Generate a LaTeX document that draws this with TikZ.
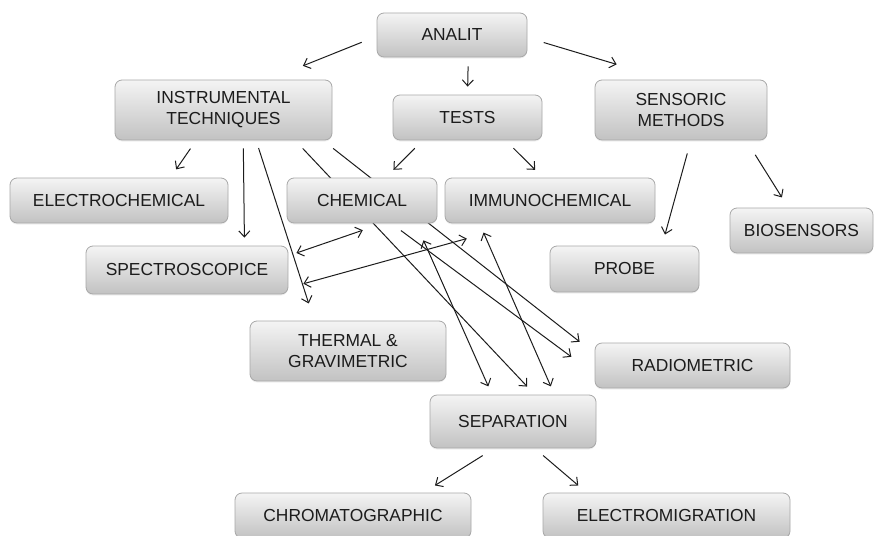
\documentclass[tikz,border=0pt]{standalone}
\usepackage{fontspec}
\setmainfont{Liberation Sans}
\usepackage{tikz}
\usetikzlibrary{arrows.meta, shadows, backgrounds}
\definecolor{boxtop}{HTML}{F4F4F4}
\definecolor{boxbot}{HTML}{C2C2C2}
\definecolor{boxline}{HTML}{A8A8A8}
\definecolor{ink}{HTML}{1C1C1C}

\begin{document}
\begin{tikzpicture}[x=1pt, y=-1pt]
	\tikzstyle{box}=[draw=boxline, line width=0.8pt, rounded corners=7pt, top color=boxtop, bottom color=boxbot, text=ink, align=center, inner sep=0pt, minimum height=45pt, font=\fontsize{17.4}{21}\selectfont, drop shadow={shadow xshift=0pt, shadow yshift=-1.5pt, opacity=0.12}]
	\tikzstyle{arr}=[-{Straight Barb[length=6pt,width=11pt]}, line width=1pt, draw=ink]
	\tikzstyle{darr}=[{Straight Barb[length=6pt,width=11pt]}-{Straight Barb[length=6pt,width=11pt]}, line width=1pt, draw=ink]
	\useasboundingbox (0,0) rectangle (874,535);
	% boxes
	\node[box, minimum width=150pt, minimum height=44pt](analit) at (452,35) {ANALIT};
	\node[box, minimum width=217pt, minimum height=60pt](instr) at (223.5,110) {INSTRUMENTAL\\TECHNIQUES};
	\node[box, minimum width=149pt](tests) at (467.5,117.5) {TESTS};
	\node[box, minimum width=172pt, minimum height=60pt](sensoric) at (681,110) {SENSORIC\\METHODS};
	\node[box, minimum width=218pt](electro) at (119,200.5) {ELECTROCHEMICAL};
	\node[box, minimum width=150pt](chemical) at (362,200.5) {CHEMICAL};
	\node[box, minimum width=210pt](immuno) at (550,200.5) {IMMUNOCHEMICAL};
	\node[box, minimum width=143pt](biosensors) at (801.5,230.5) {BIOSENSORS};
	\node[box, minimum width=149pt, minimum height=46pt](probe) at (624.5,269) {PROBE};
	\node[box, minimum width=202pt, minimum height=48pt](spectro) at (187,270) {SPECTROSCOPICE};
	\node[box, minimum width=196pt, minimum height=60pt](thermal) at (348,351) {THERMAL \&\\GRAVIMETRIC};
	\node[box, minimum width=195pt](radiometric) at (692.5,365.5) {RADIOMETRIC};
	\node[box, minimum width=166pt, minimum height=53pt](separation) at (513,421.5) {SEPARATION};
	\node[box, minimum width=236pt](chromato) at (353,515.5) {CHROMATOGRAPHIC};
	\node[box, minimum width=247pt](electromig) at (666.5,515.5) {ELECTROMIGRATION};
	% arrows
	\begin{scope}[on background layer]
		\draw[arr, shorten <=16pt, shorten >=37pt] (analit.181) to (instr.34);
		\draw[arr, shorten <=9pt, shorten >=8pt] (analit.306) to (tests.north);
		\draw[arr, shorten <=17pt, shorten >=53pt] (analit.358) to (sensoric.114);
		\draw[arr, shorten <=10pt, shorten >=10pt] (instr.228) to (electro.24);
		\draw[arr, shorten <=8pt, shorten >=8pt] (instr.303) to (spectro.23);
		\draw[arr, shorten <=8pt, shorten >=18pt] (instr.317) to (thermal.138);
		\draw[arr, shorten <=11pt, shorten >=11pt] (instr.337) to (separation.51);
		\draw[arr, shorten <=13pt, shorten >=19pt] (instr.343) to (radiometric.173);
		\draw[arr, shorten <=12pt, shorten >=29pt] (chemical.322) to (radiometric.185);
		\draw[darr, shorten <=8.5pt, shorten >=21pt] (spectro.8) to (chemical.312);
		\draw[darr, shorten <=15.5pt, shorten >=57pt] (spectro.350) to (immuno.219);
		\draw[darr, shorten <=18.5pt, shorten >=9pt] (chemical.337) to (separation.128);
		\draw[darr, shorten <=10pt, shorten >=9pt] (immuno.198) to (separation.33);
		\draw[arr, shorten <=11pt, shorten >=11pt] (tests.207) to (chemical.44);
		\draw[arr, shorten <=11pt, shorten >=11pt] (tests.329) to (immuno.107);
		\draw[arr, shorten <=13.5pt, shorten >=11.5pt] (sensoric.288) to (probe.32);
		\draw[arr, shorten <=17pt, shorten >=12pt] (sensoric.335) to (biosensors.120);
		\draw[arr, shorten <=13.5pt, shorten >=13.5pt] (separation.235) to (chromato.18);
		\draw[arr, shorten <=11pt, shorten >=11pt] (separation.309) to (electromig.164);
	\end{scope}
\end{tikzpicture}
\end{document}
